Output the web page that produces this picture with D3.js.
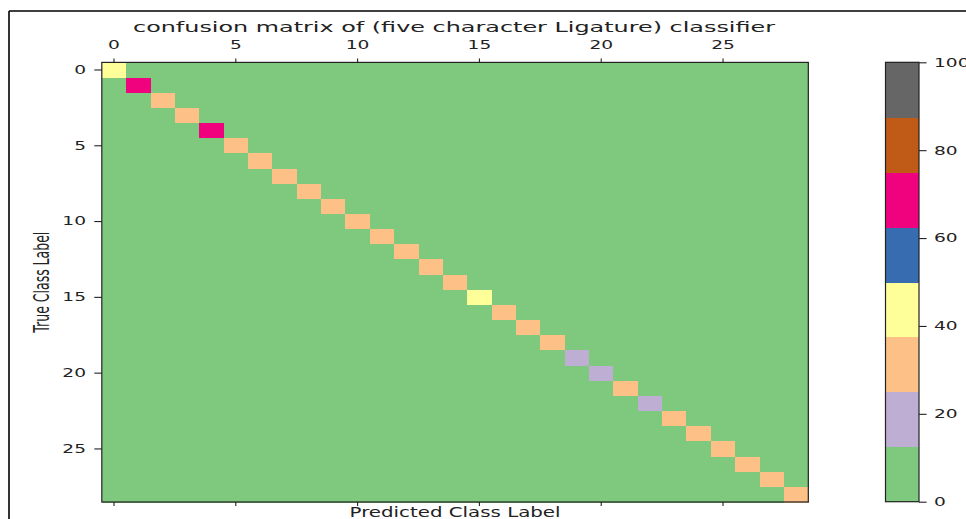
<!DOCTYPE html>
<html><head><meta charset="utf-8">
<script src="https://cdn.jsdelivr.net/npm/d3@7"></script>
<style>
html,body{margin:0;padding:0;background:#fff;}
svg{display:block;}
text{font-family:"DejaVu Sans",sans-serif;fill:#222;}
</style></head>
<body>
<script>
// ---- data ----
const classes = d3.range(29);
// diagonal values (percent) of the confusion matrix, off-diagonal are 0
const diagValues = [40, 70, 30, 30, 70, 30, 30, 30, 30, 30,
                    30, 30, 30, 30, 30, 40, 30, 30, 30, 20,
                    20, 30, 20, 30, 30, 30, 30, 30, 30];
const axisTicks = [0, 5, 10, 15, 20, 25];
const colorbarTicks = [0, 20, 40, 60, 80, 100];
const colorDomain = [0, 100];
const palette = d3.schemeAccent; // 8 colours

const titleText = "confusion matrix of (five character Ligature) classifier";
const xLabelText = "Predicted Class Label";
const yLabelText = "True Class Label";

const W = 966, H = 519, SX = 1.55;
const L = 101.8, R = 808.3, T = 62.4, B = 502;
const cbL = 885.5, cbR = 919, cbT = 62.3, cbB = 501.7;

const svg = d3.select("body").append("svg").attr("width", W).attr("height", H);

// outer frame
svg.append("line").attr("x1", 9).attr("x2", W).attr("y1", 11).attr("y2", 11).attr("stroke", "#000").attr("stroke-width", 1.6);
svg.append("line").attr("x1", 9).attr("x2", 9).attr("y1", 11).attr("y2", H).attr("stroke", "#000").attr("stroke-width", 1.6);

const x = d3.scaleBand().domain(classes).range([L, R]);
const y = d3.scaleBand().domain(classes).range([T, B]);
const color = d3.scaleQuantize().domain(colorDomain).range(palette);

const cells = [];
classes.forEach(i => classes.forEach(j => cells.push({r: i, c: j, v: i === j ? diagValues[i] : 0})));

svg.append("g").attr("shape-rendering", "crispEdges").selectAll("rect").data(cells).join("rect")
  .attr("x", d => x(d.c)).attr("y", d => y(d.r))
  .attr("width", x.bandwidth() + 0.6).attr("height", y.bandwidth() + 0.6)
  .attr("fill", d => color(d.v));

svg.append("rect").attr("x", L).attr("y", T).attr("width", R - L).attr("height", B - T)
  .attr("fill", "none").attr("stroke", "#222").attr("stroke-width", 1.2);

function styleAxis(g) {
  g.select(".domain").remove();
  g.selectAll(".tick line").attr("stroke", "#222").attr("stroke-width", 1.1);
  g.selectAll(".tick text").attr("font-family", "DejaVu Sans").attr("font-size", 12).attr("fill", "#222");
}

// top axis
const gTop = svg.append("g").attr("transform", `translate(0,${T})`)
  .call(d3.axisTop(x).tickValues(axisTicks).tickSize(4).tickPadding(9));
styleAxis(gTop);
gTop.selectAll(".tick text").attr("transform", `scale(${SX},1)`);

// bottom axis (ticks only)
const gBot = svg.append("g").attr("transform", `translate(0,${B})`)
  .call(d3.axisBottom(x).tickValues(axisTicks).tickSize(4).tickFormat(""));
styleAxis(gBot);

// left axis
const gLeft = svg.append("g").attr("transform", `translate(${L},0)`)
  .call(d3.axisLeft(y).tickValues(axisTicks).tickSize(7.5).tickPadding(8));
styleAxis(gLeft);
gLeft.selectAll(".tick text").attr("x", -15.8 / SX).attr("transform", `scale(${SX},1)`);

// title
svg.append("text").attr("x", 454).attr("y", 32).attr("text-anchor", "middle")
  .attr("font-size", 14).attr("textLength", 642).attr("lengthAdjust", "spacingAndGlyphs")
  .text(titleText);

// x label
svg.append("text").attr("x", (L + R) / 2).attr("y", 516.5).attr("text-anchor", "middle")
  .attr("font-size", 14).attr("textLength", 211).attr("lengthAdjust", "spacingAndGlyphs")
  .text(xLabelText);

// y label
svg.append("text").attr("transform", `translate(48.5,${(T + B) / 2}) scale(${SX},1) rotate(-90)`)
  .attr("text-anchor", "middle").attr("font-family", "Liberation Sans").attr("font-size", 14)
  .attr("textLength", 101).attr("lengthAdjust", "spacingAndGlyphs")
  .text(yLabelText);

// colorbar
const cy = d3.scaleLinear().domain(colorDomain).range([cbB, cbT]);
const bins = palette.map((c, i) => {
  const [a, b] = color.invertExtent(c);
  return {c, a, b};
});
svg.append("g").attr("shape-rendering", "crispEdges").selectAll("rect").data(bins).join("rect")
  .attr("x", cbL).attr("width", cbR - cbL)
  .attr("y", d => cy(d.b)).attr("height", d => cy(d.a) - cy(d.b) + 0.5)
  .attr("fill", d => d.c);
svg.append("rect").attr("x", cbL).attr("y", cbT).attr("width", cbR - cbL).attr("height", cbB - cbT)
  .attr("fill", "none").attr("stroke", "#222").attr("stroke-width", 1.2);
const gCb = svg.append("g").attr("transform", `translate(${cbR},0)`)
  .call(d3.axisRight(cy).tickValues(colorbarTicks).tickSize(7.6).tickPadding(7.4));
styleAxis(gCb);
gCb.selectAll(".tick text").attr("x", 15 / SX).attr("transform", `scale(${SX},1)`);
</script>
</body></html>
